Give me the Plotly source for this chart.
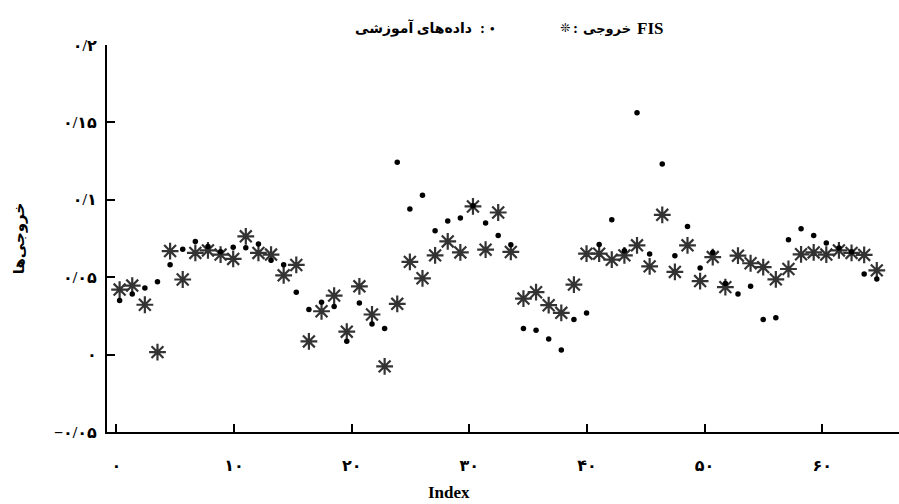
import plotly.graph_objects as go

index = list(range(1, 62))

fis_output = [0.0420, 0.0446, 0.0322, 0.0016, 0.0669, 0.0485, 0.0657, 0.0673, 0.0646, 0.0618,
              0.0764, 0.0657, 0.0646, 0.0512, 0.0579, 0.0085, 0.0280, 0.0381, 0.0148, 0.0441,
              0.0259, -0.0076, 0.0328, 0.0599, 0.0493, 0.0641, 0.0731, 0.0660, 0.0957, 0.0678,
              0.0918, 0.0663, 0.0362, 0.0403, 0.0319, 0.0270, 0.0452, 0.0652, 0.0652, 0.0613,
              0.0641, 0.0706, 0.0570, 0.0903, 0.0534, 0.0706, 0.0475, 0.0630, 0.0436, 0.0639,
              0.0590, 0.0565, 0.0486, 0.0553, 0.0648, 0.0660, 0.0646, 0.0673, 0.0657, 0.0644,
              0.0544]

training = [0.0349, 0.0392, 0.0431, 0.0470, 0.0581, 0.0680, 0.0731, 0.0699, 0.0665, 0.0693,
            0.0691, 0.0715, 0.0609, 0.0581, 0.0403, 0.0291, 0.0338, 0.0311, 0.0087, 0.0334,
            0.0198, 0.0169, 0.1243, 0.0940, 0.1030, 0.0800, 0.0863, 0.0882, 0.0961, 0.0850,
            0.0770, 0.0710, 0.0169, 0.0158, 0.0100, 0.0030, 0.0227, 0.0269, 0.0712, 0.0871,
            0.0671, 0.1562, 0.0650, 0.1232, 0.0639, 0.0828, 0.0560, 0.0660, 0.0459, 0.0391,
            0.0441, 0.0227, 0.0238, 0.0742, 0.0813, 0.0770, 0.0721, 0.0689, 0.0665, 0.0521,
            0.0489]

# tick marks/labels of the x axis sit where the reference prints them
x_tick_vals = [0.75, 10.07, 19.39, 28.71, 38.03, 47.35, 56.67]
x_tick_text = ["۰", "۱۰", "۲۰", "۳۰", "۴۰", "۵۰", "۶۰"]
y_tick_vals = [-0.05, 0, 0.05, 0.1, 0.15, 0.2]
y_tick_text = ["−۰/۰۵", "۰", "۰/۰۵", "۰/۱", "۰/۱۵", "۰/۲"]

# legend header, split into single-direction pieces:  "❊ : خروجی FIS"   "داده‌های آموزشی : ."
fis_symbol, fis_word, fis_latin = "❊", "خروجی", "FIS"
train_symbol, train_words = "•", "داده\u200cهای آموزشی"
x_title = "Index"
y_title = "خروجی\u200cها"

FONT = "Liberation Serif, DejaVu Sans, serif"

W, H = 899, 504
ML, MR, MT, MB = 107, 0, 45, 72
PW, PH = W - ML - MR, H - MT - MB


def px_to_paper_x(px):
    return (px - ML) / PW


def py_to_paper_y(py):
    return (H - MB - py) / PH


fig = go.Figure()
fig.add_trace(go.Scatter(
    x=index, y=fis_output, mode="markers", name="FIS",
    marker=dict(symbol="asterisk-open", size=14, color="#333333",
                line=dict(color="#333333", width=2.2)),
))
fig.add_trace(go.Scatter(
    x=index, y=training, mode="markers", name="train",
    marker=dict(symbol="circle", size=5.5, color="#000000"),
))

axis_common = dict(
    showline=True, linecolor="black", linewidth=2,
    ticks="inside", ticklen=8, tickwidth=2, tickcolor="black",
    showgrid=False, zeroline=False,
    tickfont=dict(family=FONT, size=16, color="black", weight="bold"),
)

fig.update_xaxes(range=[0, 62.76], tickvals=x_tick_vals, ticktext=x_tick_text,
                 ticklabelstandoff=18, **axis_common)
fig.update_yaxes(range=[-0.05, 0.2], tickvals=y_tick_vals, ticktext=y_tick_text,
                 ticklabelstandoff=5,
                 title=dict(text=y_title, standoff=26,
                            font=dict(family=FONT, size=15, color="black", weight="bold")),
                 **axis_common)

fig.add_annotation(text=x_title, xref="paper", yref="paper",
                   x=px_to_paper_x(449), y=py_to_paper_y(492),
                   xanchor="center", yanchor="middle", showarrow=False,
                   font=dict(family=FONT, size=17, color="black", weight="bold"))


def header(text, px, anchor, size=15):
    fig.add_annotation(text=text, xref="paper", yref="paper",
                       x=px_to_paper_x(px), y=py_to_paper_y(28),
                       xanchor=anchor, yanchor="middle", showarrow=False,
                       font=dict(family=FONT, size=size, color="black", weight="bold"))


# training-data entry (left group)
header(train_words, 474, "right", 14)
header(":", 482, "center", 15)
header(train_symbol, 492, "center", 13)
# FIS entry (right group)
header(fis_symbol, 565, "center", 12)
header(":", 575, "center", 15)
header(fis_word, 581, "left", 13)
header(fis_latin, 635, "left", 17)

fig.update_layout(
    width=W, height=H,
    margin=dict(l=ML, r=MR, t=MT, b=MB),
    paper_bgcolor="white", plot_bgcolor="white",
    showlegend=False,
)

fig.write_html("out.html")
